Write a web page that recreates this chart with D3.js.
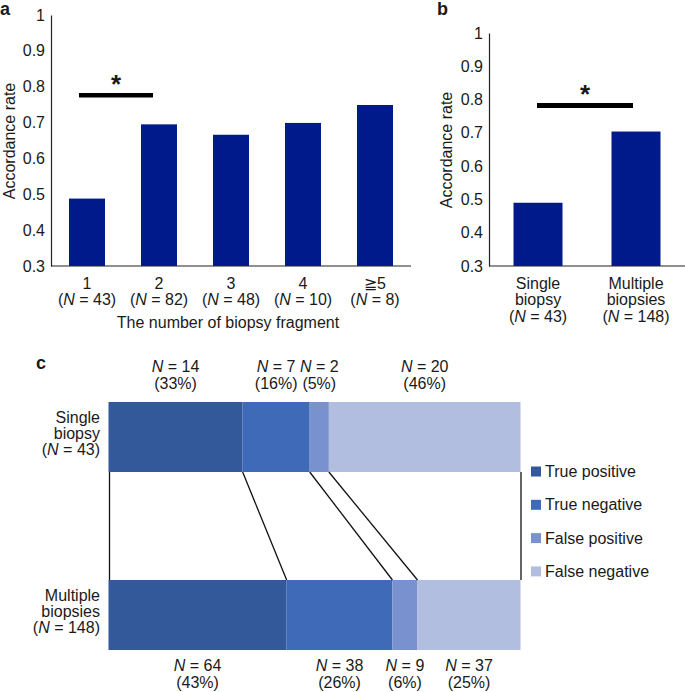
<!DOCTYPE html>
<html>
<head>
<meta charset="utf-8">
<script src="https://cdn.jsdelivr.net/npm/d3@7"></script>
<style>
  html, body { margin: 0; padding: 0; background: #fff; }
  svg { display: block; }
  text { font-family: "Liberation Sans", Arial, Helvetica, sans-serif; fill: #1a1a1a; }
</style>
</head>
<body>
<svg id="chart" width="685" height="692"></svg>
<script>
// ---------- DATA ----------
const fragmentCategories = ["1", "2", "3", "4", "\u22675"];
const fragmentN = [43, 82, 48, 10, 8];
const fragmentRate = [0.488, 0.695, 0.666, 0.699, 0.749];

const biopsyCategories = [["Single", "biopsy"], ["Multiple", "biopsies"]];
const biopsyN = [43, 148];
const biopsyRate = [0.49, 0.704];

const rateTicks = [0.3, 0.4, 0.5, 0.6, 0.7, 0.8, 0.9, 1];
const rateTickLabels = ["0.3", "0.4", "0.5", "0.6", "0.7", "0.8", "0.9", "1"];

const sigLevelA = 0.776;
const sigLevelB = 0.782;

const outcomeNames = ["True positive", "True negative", "False positive", "False negative"];
const singleCounts = [14, 7, 2, 20];
const singlePct = [33, 16, 5, 46];
const multipleCounts = [64, 38, 9, 37];
const multiplePct = [43, 26, 6, 25];
const groupLabels = [["Single", "biopsy", "43"], ["Multiple", "biopsies", "148"]];

// ---------- STYLE ----------
const barColor = "#001a8c";
const outcomeColors = ["#33599a", "#3f6ab8", "#7992cf", "#b2bedf"];
const FS = 16;

const svg = d3.select("#chart");

function nLabel(sel, n, prefix, suffix) {
  sel.append("tspan").text(prefix || "");
  sel.append("tspan").attr("font-style", "italic").text("N");
  sel.append("tspan").text(" = " + n + (suffix || ""));
}

function styleAxis(g) {
  g.select(".domain").attr("stroke", "#222").attr("stroke-width", 1.2);
  g.attr("font-size", null).attr("font-family", null);
  g.selectAll("text")
    .style("font-size", FS + "px")
    .style("font-family", "'Liberation Sans', Arial, sans-serif")
    .attr("fill", "#1a1a1a");
}

// ---------- PANEL A ----------
const gA = svg.append("g");
const xA = d3.scaleBand().domain(fragmentCategories).range([51, 411]).paddingInner(0.5).paddingOuter(0.25);
const yA = d3.scaleLinear().domain([0.3, 1]).range([266, 15]);

gA.append("g")
  .attr("transform", "translate(51,0)")
  .call(d3.axisLeft(yA).tickValues(rateTicks).tickFormat((d, i) => rateTickLabels[i]).tickSize(0).tickPadding(6))
  .call(styleAxis);

gA.selectAll("rect.bar").data(fragmentCategories).join("rect")
  .attr("class", "bar")
  .attr("x", d => xA(d))
  .attr("width", xA.bandwidth())
  .attr("y", (d, i) => yA(fragmentRate[i]))
  .attr("height", (d, i) => yA(0.3) - yA(fragmentRate[i]))
  .attr("fill", barColor);

gA.append("line").attr("x1", 51).attr("x2", 411).attr("y1", 266).attr("y2", 266)
  .attr("stroke", "#222").attr("stroke-width", 1.2);

fragmentCategories.forEach((c, i) => {
  const cx = xA(c) + xA.bandwidth() / 2;
  gA.append("text").attr("x", cx).attr("y", 289).attr("text-anchor", "middle").attr("font-size", FS).text(c);
  const t = gA.append("text").attr("x", cx).attr("y", 305).attr("text-anchor", "middle").attr("font-size", FS);
  nLabel(t, fragmentN[i], "(", ")");
});

gA.append("text").attr("x", 228).attr("y", 328).attr("text-anchor", "middle").attr("font-size", FS)
  .text("The number of biopsy fragment");

gA.append("text").attr("transform", "translate(15,141) rotate(-90)").attr("text-anchor", "middle")
  .attr("font-size", FS).text("Accordance rate");

// significance
{
  const x1 = xA(fragmentCategories[0]) + xA.bandwidth() / 2 - 8;
  const x2 = xA(fragmentCategories[1]) + xA.bandwidth() / 2 - 6;
  gA.append("line").attr("x1", x1).attr("x2", x2).attr("y1", yA(sigLevelA)).attr("y2", yA(sigLevelA))
    .attr("stroke", "#000").attr("stroke-width", 4.5);
  gA.append("text").attr("x", (x1 + x2) / 2).attr("y", yA(sigLevelA) - 2).attr("text-anchor", "middle")
    .attr("font-size", 26).attr("font-weight", "bold").attr("fill", "#000").text("*");
}

svg.append("text").attr("x", 0).attr("y", 15).attr("font-size", 18).attr("font-weight", "bold").attr("fill", "#000").text("a");

// ---------- PANEL B ----------
const gB = svg.append("g");
const xB = d3.scaleBand().domain(biopsyCategories.map(d => d.join(" "))).range([489, 685]).paddingInner(0.5).paddingOuter(0.25);
const yB = d3.scaleLinear().domain([0.3, 1]).range([266, 33]);

gB.append("g")
  .attr("transform", "translate(489,0)")
  .call(d3.axisLeft(yB).tickValues(rateTicks).tickFormat((d, i) => rateTickLabels[i]).tickSize(0).tickPadding(6))
  .call(styleAxis);

gB.selectAll("rect.bar").data(biopsyCategories).join("rect")
  .attr("class", "bar")
  .attr("x", d => xB(d.join(" ")))
  .attr("width", xB.bandwidth())
  .attr("y", (d, i) => yB(biopsyRate[i]))
  .attr("height", (d, i) => yB(0.3) - yB(biopsyRate[i]))
  .attr("fill", barColor);

gB.append("line").attr("x1", 489).attr("x2", 685).attr("y1", 266).attr("y2", 266)
  .attr("stroke", "#222").attr("stroke-width", 1.2);

biopsyCategories.forEach((c, i) => {
  const cx = xB(c.join(" ")) + xB.bandwidth() / 2;
  gB.append("text").attr("x", cx).attr("y", 289).attr("text-anchor", "middle").attr("font-size", FS).text(c[0]);
  gB.append("text").attr("x", cx).attr("y", 305).attr("text-anchor", "middle").attr("font-size", FS).text(c[1]);
  const t = gB.append("text").attr("x", cx).attr("y", 322).attr("text-anchor", "middle").attr("font-size", FS);
  nLabel(t, biopsyN[i], "(", ")");
});

gB.append("text").attr("transform", "translate(452,150) rotate(-90)").attr("text-anchor", "middle")
  .attr("font-size", FS).text("Accordance rate");

{
  const k = biopsyCategories.map(d => d.join(" "));
  const x1 = xB(k[0]) + xB.bandwidth() / 2 - 1;
  const x2 = xB(k[1]) + xB.bandwidth() / 2 - 3;
  gB.append("line").attr("x1", x1).attr("x2", x2).attr("y1", yB(sigLevelB)).attr("y2", yB(sigLevelB))
    .attr("stroke", "#000").attr("stroke-width", 5);
  gB.append("text").attr("x", (x1 + x2) / 2).attr("y", yB(sigLevelB) - 3).attr("text-anchor", "middle")
    .attr("font-size", 26).attr("font-weight", "bold").attr("fill", "#000").text("*");
}

svg.append("text").attr("x", 437).attr("y", 15).attr("font-size", 18).attr("font-weight", "bold").attr("fill", "#000").text("b");

// ---------- PANEL C ----------
const gC = svg.append("g");
svg.append("text").attr("x", 36).attr("y", 369).attr("font-size", 18).attr("font-weight", "bold").attr("fill", "#000").text("c");

const rows = [
  { counts: singleCounts, pct: singlePct, top: 402, label: groupLabels[0] },
  { counts: multipleCounts, pct: multiplePct, top: 580, label: groupLabels[1] }
];
const barH = 70;
rows.forEach(r => {
  const total = d3.sum(r.counts);
  r.x = d3.scaleLinear().domain([0, total]).range([108.5, 520.5]);
  let cum = 0;
  r.segs = r.counts.map((c, i) => { const s = { start: cum, end: cum + c, i }; cum += c; return s; });
});

rows.forEach((r, ri) => {
  gC.selectAll(null).data(r.segs).join("rect")
    .attr("x", d => r.x(d.start))
    .attr("width", d => r.x(d.end) - r.x(d.start))
    .attr("y", r.top).attr("height", barH)
    .attr("fill", d => outcomeColors[d.i]);

  const baseY = r.top + barH / 2;
  gC.append("text").attr("x", 100).attr("y", baseY - 14).attr("text-anchor", "end").attr("font-size", FS).text(r.label[0]);
  gC.append("text").attr("x", 100).attr("y", baseY + 2).attr("text-anchor", "end").attr("font-size", FS).text(r.label[1]);
  const t = gC.append("text").attr("x", 100).attr("y", baseY + 18).attr("text-anchor", "end").attr("font-size", FS);
  nLabel(t, r.label[2], "(", ")");

  const y1 = ri === 0 ? 372 : 671;
  r.segs.forEach(s => {
    const cx = (r.x(s.start) + r.x(s.end)) / 2;
    const t1 = gC.append("text").attr("x", cx).attr("y", y1).attr("text-anchor", "middle").attr("font-size", FS);
    nLabel(t1, r.counts[s.i], "", "");
    gC.append("text").attr("x", cx).attr("y", y1 + 17).attr("text-anchor", "middle").attr("font-size", FS)
      .text("(" + r.pct[s.i] + "%)");
  });
});

// connectors
{
  const a = rows[0], b = rows[1];
  const yTop = a.top + barH, yBot = b.top;
  const pts = [{ t: a.x(0) + 1, b: b.x(0) + 1 }];
  for (let i = 0; i < 3; i++) pts.push({ t: a.x(a.segs[i].end), b: b.x(b.segs[i].end) });
  pts.push({ t: a.x(a.segs[3].end) + 0.5, b: b.x(b.segs[3].end) + 0.5 });
  gC.selectAll("line.conn").data(pts).join("line").attr("class", "conn")
    .attr("x1", d => d.t).attr("x2", d => d.b).attr("y1", yTop).attr("y2", yBot)
    .attr("stroke", "#111").attr("stroke-width", 1.3);
}

// legend
const lg = svg.append("g");
outcomeNames.forEach((n, i) => {
  const cy = 471.5 + i * 33.3;
  lg.append("rect").attr("x", 531).attr("y", cy - 5).attr("width", 10).attr("height", 10).attr("fill", outcomeColors[i]);
  lg.append("text").attr("x", 545).attr("y", cy + 5.5).attr("font-size", FS).text(n);
});
</script>
</body>
</html>
